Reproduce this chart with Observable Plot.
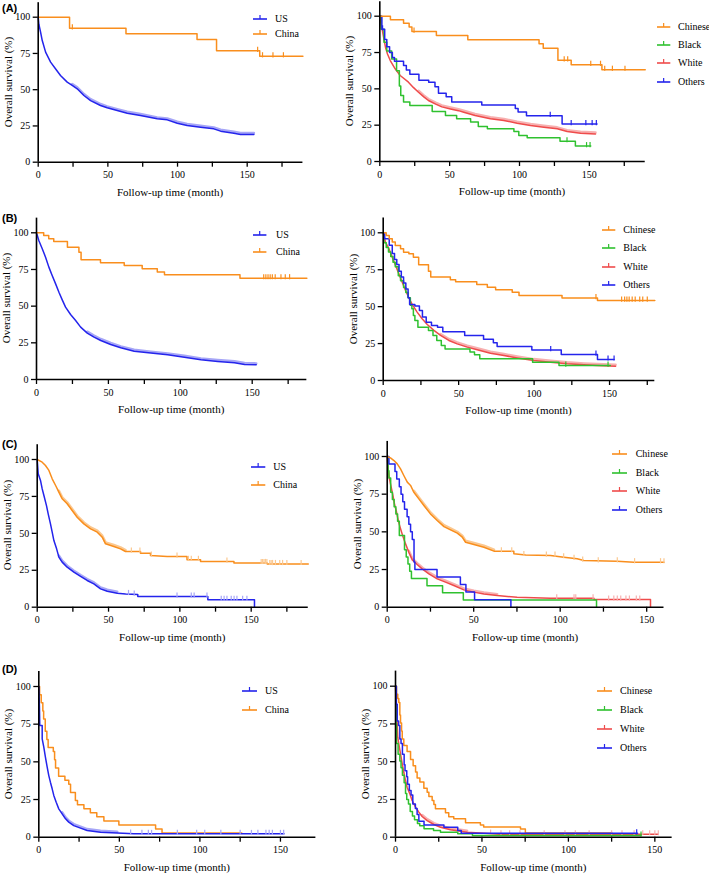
<!DOCTYPE html>
<html><head><meta charset="utf-8">
<script src="https://cdn.jsdelivr.net/npm/d3@7"></script>
<script src="https://cdn.jsdelivr.net/npm/@observablehq/plot@0.6"></script>
<style>
body{margin:0;background:#fff;}
#fig{position:relative;width:709px;height:874px;overflow:hidden;background:#fff;font-family:"Liberation Serif","Times New Roman",serif;color:#000;}
.t{position:absolute;white-space:nowrap;line-height:1;}
.p{position:absolute;}
</style></head><body><div id="fig"></div>
<script>
// ---------- tick values ----------
const X_TICKS = [0, 25, 50, 75, 100, 125, 150, 175];
const X_LABELS = [0, 50, 100, 150];
const Y_TICKS = [0, 25, 50, 75, 100];
const PANEL_LABELS = ["(A)", "(B)", "(C)", "(D)"];
const X_TITLE = "Follow-up time (month)";
const Y_TITLE = "Overall survival (%)";
const GROUPS_COUNTRY = ["US", "China"];
const GROUPS_RACE = ["Chinese", "Black", "White", "Others"];

// ---------- data: [month, survival %] ----------
// (A) left
const A_L_US = [[0,100],[0.5,95],[1.7,89.7],[2.9,83.9],[5.3,75.9],[8.9,69],[12.4,64.4],[16,59.8],[20.8,55.2],[24.4,52.9],[28,50.6],[32.8,46],[37.6,42.5],[44.7,39.1],[49.5,37.5],[56.7,35.6],[63.9,33.8],[73.4,32.2],[85.4,29.9],[92.6,29.2],[99.8,26.9],[106.9,25.3],[116.5,24.1],[126,23],[130.9,21.4],[140.4,20],[145.2,19.1],[154.8,19.1]];
const A_L_CHINA = [[0,100],[22.5,92.3],[63,88.5],[114,84.6],[128,76.9],[159,73.1],[190,73.1]];
const A_L_CHINA_CENS = [[24.5,92.3],[157.5,76.9],[161,73.1],[168.5,73.1],[176,73.1]];
// (A) right
const A_R_CHINESE = [[0,100],[7.6,97.5],[17,95.1],[21,92.5],[23,89.5],[40.5,86.7],[63,83.8],[114,81],[117,78],[127.5,69.6],[137,66.6],[159,63.2],[190,63.2]];
const A_R_CHINESE_CENS = [[24.5,89.5],[132,69.6],[134.5,69.6],[151,66.6],[158,66.6],[161,63.2],[166.5,63.2],[175.5,63.2]];
const A_R_BLACK = [[0,100],[1,91],[3,82],[5,76],[8.5,70.5],[12,62.5],[14,52],[15,45.5],[17,41],[21.5,38.5],[37.5,34.4],[47,31.7],[55,29.4],[65,27.1],[70.5,24.1],[77,22.5],[96,20.6],[99.5,17.9],[105.5,16.3],[129,14],[140,10.6],[151,10.6]];
const A_R_BLACK_CENS = [[134,14],[148,10.6],[150.5,10.6]];
const A_R_WHITE = [[0,100],[0.8,95],[1.7,91],[3,84],[4.1,78.5],[5.5,74],[7.5,69.5],[11,63.8],[14.6,59.2],[20.5,54.6],[24,51],[27.7,47.7],[31.5,44.5],[34.8,42],[40,39.5],[44.4,37.6],[50.6,36.2],[56.3,35],[60.1,33.9],[68.2,31.7],[79.2,29.4],[88.8,28.2],[98.3,26.4],[107.9,24.8],[117.4,23.6],[127,22.5],[134.1,20.6],[143.7,19.5],[154.4,19]];
const A_R_OTHERS = [[0,100],[1.5,91],[3.5,84],[5,79],[7,75],[9,71.5],[10.5,69],[17,66],[19,63],[21.5,60],[28,56],[35,54.5],[39.5,51.5],[42,47],[47.5,44.5],[51.5,41],[73,38.8],[97,36.5],[99,34],[105,31.5],[130.5,25.8],[155.5,25.8]];
const A_R_OTHERS_CENS = [[2,91],[122,31.5],[137,25.8],[147.5,25.8],[152,25.8],[155,25.8]];
// (B) left
const B_L_US = [[0,100],[1.6,94.8],[4,89.1],[6.3,83.4],[8.6,76.6],[10.9,70.9],[13.3,65.2],[15.6,59.5],[17.9,54.3],[20.2,49.3],[23.7,44.3],[27.2,40.2],[30.7,35.7],[35.3,31.6],[40,28.9],[44.7,26.6],[51.6,23.9],[58.6,21.6],[67.9,19.3],[79.5,18],[91.2,16.8],[102.8,15.2],[114.4,13.4],[126,12.3],[137.7,11.4],[144.7,10.2],[152.8,10]];
const B_L_CHINA = [[0,100],[5,98.2],[8.5,95.9],[12,94],[21.5,90.2],[29.5,86.8],[31,81.6],[44.5,79.5],[61,77.7],[73.5,75.5],[84,73.2],[89,71.4],[141.5,69.1],[188,69.1]];
const B_L_CHINA_CENS = [[158,69.1],[159.5,69.1],[161,69.1],[162.5,69.1],[164,69.1],[166,69.1],[170,69.1],[173,69.1],[176,69.1]];
// (B) right
const B_R_CHINESE = [[0,100],[2,98.2],[4,95.9],[6,93.7],[8,91.4],[11.5,89.2],[13.5,86.9],[17,85.8],[20,83.5],[23.5,78.3],[30,74],[31.5,70],[44.5,68.2],[48,66.8],[62,65],[69,63.2],[74.5,61.4],[85.5,59.8],[90,57.6],[118.5,55.8],[142,54.2],[180,54.2]];
const B_R_CHINESE_CENS = [[141,55.8],[158,54.2],[160,54.2],[161.5,54.2],[163,54.2],[165,54.2],[167,54.2],[170,54.2],[172,54.2],[175,54.2]];
const B_R_BLACK = [[0,100],[0.5,93.3],[2,90],[3.5,87],[5,84],[6.5,80],[8,77],[10,71],[11.5,67.5],[13.5,63],[15,59.5],[16.5,56],[18,51],[19,48.5],[20,44],[21,40.6],[23,36],[30,33.8],[33,30.5],[35.5,27],[38.5,23.7],[41,21.4],[57.5,19.3],[60.5,17.5],[64,14.7],[99,12.4],[116.5,10.2],[150.5,10.2]];
const B_R_BLACK_CENS = [[121,10.2],[149,10.2]];
const B_R_WHITE = [[0,100],[1.5,93.7],[3.8,89.2],[6,83.5],[8.2,77.9],[10.4,72.2],[12.6,66.6],[14.8,60.9],[17,56],[19.2,51.5],[22.5,46.3],[25.8,41.8],[29.2,37.9],[33.6,33.9],[38,30.5],[43.5,27.1],[49,24.8],[55.7,22.6],[62.3,20.8],[71.1,18.5],[80,16.9],[88.8,15.3],[99.8,13.5],[110.9,12.4],[121.9,11.3],[133,10.6],[141.8,10.2],[154,9.7]];
const B_R_OTHERS = [[0,100],[1,96],[4,91.5],[6,86],[7.5,82],[9,78.5],[10.5,74],[12,70],[13.5,66],[15,62],[16.5,56],[17.5,51.5],[21,50.5],[24,47.4],[26,43],[28.5,39.5],[32,37.2],[36,36],[39.5,33],[54,30.5],[66.5,28],[73,25.5],[75.5,23],[98.5,20.6],[118,17.6],[142,14.3],[153,14.3]];
const B_R_OTHERS_CENS = [[111,20.6],[141,17.6],[149,14.3],[153,14.3]];
// (C) left
const C_L_US = [[0,100],[0.7,90.3],[2.3,85.8],[3.5,80.1],[4.7,75.6],[6.5,68.8],[7.7,63.2],[9.3,56.4],[10.5,50.8],[11.7,45.1],[13.6,39.5],[15.2,33.9],[17.5,30.5],[21,27.1],[25.7,23.7],[30.4,20.8],[35,18.1],[39.7,15.8],[44.4,12.4],[49.1,10.8],[56.1,9.5],[62,9],[70.5,8.6],[70.5,7.2],[119.6,7.2],[119.6,5],[152.3,5],[152.3,0]];
const C_L_US_CENS = [[64,9],[68,8.6],[98,7.2],[108,7.2],[110,7.2],[119,7.2],[129,5],[131,5],[133,5],[136,5],[138,5],[140,5],[144,5],[147,5]];
const C_L_CHINA = [[0,100],[3.5,98.2],[5.8,95.9],[8.2,92.6],[10.5,86.9],[12.9,82.4],[15.2,77.9],[17.5,73.4],[21,70],[24.5,65.5],[28,60.9],[32.7,56.4],[37.4,53],[42.1,50.8],[45.6,47.4],[47.9,42.9],[53.7,41.1],[58.4,39.5],[61.9,37.7],[72.4,37.7],[72.4,36.5],[79.4,36.5],[79.4,35],[91.1,34.3],[105,34.3],[105,32.1],[114.5,32.1],[114.5,30.9],[137.9,30.9],[137.9,30],[161.2,30],[161.2,29.3],[190,29.3]];
const C_L_CHINA_CENS = [[66,37.7],[72,37.7],[80,35],[98,34.3],[106,32.1],[108,32.1],[113,32.1],[133,30.9],[157,30],[158,30],[159,30],[160,30],[161,30],[163,29.3],[164,29.3],[165,29.3],[167,29.3],[170,29.3],[172,29.3],[175,29.3],[185,29.3]];
// (C) right
const C_R_CHINESE = [[0,100],[1.9,99.1],[3.9,97.3],[5.8,95.1],[7.7,91.8],[9.6,87.4],[11.6,83],[13.5,80.8],[15.4,76.3],[18.3,71.9],[21.2,67.5],[25,61.9],[28.9,57.5],[32.8,53.5],[36.6,51.3],[40.5,49.1],[43.4,46.5],[45.3,43.1],[50.1,41.6],[55.9,39.8],[61.7,37.2],[73.2,37.2],[73.2,35.5],[80,34.7],[94.4,34.3],[102.1,33.2],[109.8,32.1],[113.7,31],[132.9,30.5],[142.6,29.9],[160,29.9]];
const C_R_CHINESE_CENS = [[66,37.2],[72,37.2],[79,34.7],[92,34.3],[97,34.3],[102,33.2],[108,32.1],[113,31],[122,30.5],[133,30.5],[143,29.9],[158,29.9],[160,29.9]];
const C_R_BLACK = [[0,100],[0.5,90.5],[1,85.7],[2,76.2],[3,71.4],[4,66.7],[5,61.9],[6,57.1],[7,47.6],[10,38.1],[11,33.3],[12,28.6],[13,23.8],[14,19],[23,14.3],[32,9.5],[44,4.8],[121,0]];
const C_R_WHITE = [[0,100],[0.6,90.7],[1.3,85.2],[2.3,79.6],[3.3,74.1],[4.2,68.6],[5.4,63],[6.4,57.5],[7.7,52],[9.2,46.5],[10.6,42],[12.5,36.5],[14.5,31.4],[17.3,28.3],[20.2,25.4],[24.1,22.1],[28.9,18.8],[33.7,16.6],[38.5,14.4],[44.3,11.5],[50.1,10],[55.9,8.8],[63.6,7.7],[75.1,6.6],[94.4,6],[119.5,6],[119.5,5.1],[152.2,5.1],[152.2,0]];
const C_R_WHITE_CENS = [[98,6],[108,6],[109,6],[119,6],[128,5.1],[131,5.1],[133,5.1],[135,5.1],[138,5.1],[140,5.1],[144,5.1],[146,5.1]];
const C_R_OTHERS = [[0,100],[1,95],[4.5,90],[5.5,85],[7,80],[8,75],[9,70],[10,65],[11.5,60],[12.5,55],[13.5,50],[14.5,45],[15.5,30],[16,25],[28.8,20],[42.3,15],[45.5,10],[50.5,5],[71.5,0]];
// (D) left
const D_L_US = [[0,100],[0.4,86.3],[0.6,74.1],[2.1,74.1],[2.1,65.3],[3.1,59.7],[4.1,53.1],[5.2,46.5],[6.2,40.9],[7.2,36.5],[8.3,32.1],[9.3,27.7],[10.8,23.2],[12.4,18.8],[14.5,15.5],[16.6,12.2],[18.6,10],[21.7,7.7],[25.9,6],[30,4.4],[38.3,3.3],[48.7,2.7],[59,2.2],[152.2,2.2]];
const D_L_US_CENS = [[57,2.5],[64,2.2],[68,2.2],[70,2.2],[86,2.2],[98,2.2],[103,2.2],[113,2.2],[125,2.2],[132,2.2],[136,2.2],[141,2.2],[143,2.2],[145,2.2],[150,2.2],[152,2.2]];
const D_L_CHINA = [[0,100],[0.5,94.6],[1.5,89.2],[2.5,83.8],[3,78.4],[4,70.3],[5,64.9],[5.8,59.5],[9,56.8],[9.8,51.4],[10.4,45.9],[12.3,40.5],[16.2,37.8],[18.6,35.1],[19.7,29.7],[22.7,24.3],[24,21.6],[28,18.9],[32,16.2],[36,13.5],[40.4,10.8],[49.7,8.1],[72.5,5.4],[76.5,2.7],[126,2.7]];
// (D) right
const D_R_CHINESE = [[0,100],[0.6,94.6],[1.3,91.9],[1.9,89.2],[2.5,81],[2.9,75.7],[3.5,70.3],[3.9,65],[4.8,60.8],[6.7,56.8],[8.7,51.4],[10.2,47.3],[11.6,43.2],[12.5,39.2],[14.1,36.5],[16.4,32.4],[18.3,29.7],[19.3,27],[21.2,24.3],[22.2,21.6],[23.1,18.9],[28.9,16.2],[30.8,13.5],[33.7,12.2],[40.5,9.5],[49.1,8.1],[51,6.8],[72.3,5.4],[75.1,2.7],[125.2,2.7]];
const D_R_BLACK = [[0,100],[0.3,75],[0.6,62],[1.5,55],[2.5,50.5],[3.2,46],[4,41],[5,36],[5.8,29],[6.5,25],[7.5,22],[8.5,17],[9.8,14],[11,11.5],[12.7,9],[14,7.5],[16.5,5.6],[22,4.4],[26,3.3],[36,2.2],[44.5,1.2],[142,1.2]];
const D_R_BLACK_CENS = [[142,1.2]];
const D_R_WHITE = [[0,100],[0.4,86.1],[1,75],[1.3,66.2],[1.9,61.8],[2.9,55.2],[3.9,48.6],[4.8,43],[5.8,37.5],[6.7,33.1],[8.3,28.7],[9.6,24.3],[11.6,19.9],[13.5,16.6],[15.4,13.7],[18.3,11],[22.2,8.4],[26,6.6],[31.8,4.9],[41.4,3.3],[51.1,2.6],[60,2],[152,2]];
const D_R_WHITE_CENS = [[55,2.4],[61,2],[66,2],[72,2],[86,2],[98,2],[104,2],[112,2],[125,2],[131,2],[138,2],[143,2],[147,2],[150,2],[152,2]];
const D_R_OTHERS = [[0,100],[0.5,88],[1,77],[1.8,74],[2.5,65],[3.2,62],[4,55],[5,48],[5.5,44],[6.5,40],[7,35],[8,31],[9,28],[10,22],[11.5,19],[12.5,15],[13.5,10.5],[16.5,8],[28,6.6],[36,4.4],[38,2.6],[140,2.6]];
const D_R_OTHERS_CENS = [[139.5,2.6]];

// ---------- styles ----------
const C = {orange:"#F98E1D", blue:"#2424EC", green:"#2FC12F", red:"#EF4B4B",
           orangeL:"#FBC890", blueL:"#A6A6F7", redL:"#F7B0B0"};
const COUNTRY_COLORS = [C.blue, C.orange];
const RACE_COLORS = [C.orange, C.green, C.red, C.blue];

const PANELS = [
 {letter:0, left:0, top:0, w:350, x0:37.7, ppm:1.3933, xMax:190, y100:16.7, y0:161.7,
  series:[{d:A_L_US,c:C.blue,l:C.blueL,dense:true,band:[22,156]},{d:A_L_CHINA,c:C.orange,cens:A_L_CHINA_CENS}],
  leg:{x1:253,x2:267,tx:275,ys:[19,34.3],names:GROUPS_COUNTRY,colors:COUNTRY_COLORS}},
 {left:350, top:0, w:359, x0:379.3, ppm:1.397, xMax:190, y100:15.7, y0:161,
  series:[{d:A_R_WHITE,c:C.red,l:C.redL,dense:true,band:[25,156]},{d:A_R_BLACK,c:C.green,cens:A_R_BLACK_CENS},{d:A_R_OTHERS,c:C.blue,cens:A_R_OTHERS_CENS},{d:A_R_CHINESE,c:C.orange,cens:A_R_CHINESE_CENS}],
  leg:{x1:656.7,x2:670,tx:678,ys:[26.7,45,63.3,81.7],names:GROUPS_RACE,colors:RACE_COLORS}},
 {letter:1, left:0, top:205, w:350, x0:36, ppm:1.438, xMax:188, y100:232.3, y0:379,
  series:[{d:B_L_US,c:C.blue,l:C.blueL,dense:true,band:[35,155]},{d:B_L_CHINA,c:C.orange,cens:B_L_CHINA_CENS}],
  leg:{x1:253.3,x2:266.7,tx:276,ys:[235,251.7],names:GROUPS_COUNTRY,colors:COUNTRY_COLORS}},
 {left:350, top:205, w:359, x0:382.7, ppm:1.509, xMax:180, y100:232.3, y0:380,
  series:[{d:B_R_WHITE,c:C.red,l:C.redL,dense:true,band:[38,155]},{d:B_R_BLACK,c:C.green,cens:B_R_BLACK_CENS},{d:B_R_OTHERS,c:C.blue,cens:B_R_OTHERS_CENS},{d:B_R_CHINESE,c:C.orange,cens:B_R_CHINESE_CENS}],
  leg:{x1:601.7,x2:615,tx:623.3,ys:[230,248.3,266.7,285],names:GROUPS_RACE,colors:RACE_COLORS}},
 {letter:2, left:0, top:420, w:350, x0:36.7, ppm:1.4267, xMax:190, y100:459, y0:606.7,
  series:[{d:C_L_US,c:C.blue,l:C.blueL,dense:true,band:[15,60],cens:C_L_US_CENS},{d:C_L_CHINA,c:C.orange,l:C.orangeL,dense:true,band:[15,62],cens:C_L_CHINA_CENS}],
  leg:{x1:250.7,x2:265,tx:273.3,ys:[466.7,485],names:GROUPS_COUNTRY,colors:COUNTRY_COLORS}},
 {left:350, top:420, w:359, x0:386.7, ppm:1.73, xMax:160, y100:456, y0:606.7,
  series:[{d:C_R_WHITE,c:C.red,l:C.redL,dense:true,band:[12,72],cens:C_R_WHITE_CENS},{d:C_R_BLACK,c:C.green},{d:C_R_OTHERS,c:C.blue},{d:C_R_CHINESE,c:C.orange,l:C.orangeL,dense:true,band:[15,62],cens:C_R_CHINESE_CENS}],
  leg:{x1:611.7,x2:626.7,tx:635.7,ys:[454.3,473,491.3,510],names:GROUPS_RACE,colors:RACE_COLORS}},
 {letter:3, left:0, top:640, w:350, x0:38.3, ppm:1.611, xMax:172, y100:686, y0:836.7,
  series:[{d:D_L_CHINA,c:C.orange},{d:D_L_US,c:C.blue,l:C.blueL,dense:true,band:[14,50],cens:D_L_US_CENS}],
  leg:{x1:241.7,x2:256.7,tx:265,ys:[691,710],names:GROUPS_COUNTRY,colors:COUNTRY_COLORS}},
 {left:350, top:640, w:359, x0:395, ppm:1.729, xMax:160, y100:685.7, y0:836.7,
  series:[{d:D_R_CHINESE,c:C.orange},{d:D_R_WHITE,c:C.red,l:C.redL,dense:true,band:[14,50],cens:D_R_WHITE_CENS},{d:D_R_BLACK,c:C.green,cens:D_R_BLACK_CENS},{d:D_R_OTHERS,c:C.blue,cens:D_R_OTHERS_CENS}],
  leg:{x1:596.7,x2:611.7,tx:620,ys:[691,710,729,747.7],names:GROUPS_RACE,colors:RACE_COLORS}}
];

const censorSymbol = {draw(ctx, size){ const r = Math.sqrt(size/Math.PI); ctx.moveTo(0,-r); ctx.lineTo(0,r*0.3); }};
const fig = document.getElementById("fig");
const NS = "http://www.w3.org/2000/svg";

function addText(txt, x, y, css) {
  const el = document.createElement("div");
  el.className = "t";
  el.textContent = txt;
  el.style.left = x + "px"; el.style.top = y + "px";
  Object.assign(el.style, css || {});
  fig.appendChild(el);
  return el;
}
function addSwatch(x1, x2, y, color) {
  const w = x2 - x1;
  const svg = document.createElementNS(NS, "svg");
  svg.setAttribute("width", w + 2); svg.setAttribute("height", 10);
  svg.style.position = "absolute";
  svg.style.left = (x1 - 1) + "px"; svg.style.top = (y - 6) + "px";
  svg.style.overflow = "visible";
  const ln = document.createElementNS(NS, "line");
  ln.setAttribute("x1", 1); ln.setAttribute("x2", w + 1); ln.setAttribute("y1", 6); ln.setAttribute("y2", 6);
  ln.setAttribute("stroke", color); ln.setAttribute("stroke-width", 1.6);
  const tk = document.createElementNS(NS, "line");
  tk.setAttribute("x1", 1 + w/2); tk.setAttribute("x2", 1 + w/2); tk.setAttribute("y1", 2); tk.setAttribute("y2", 6);
  tk.setAttribute("stroke", color); tk.setAttribute("stroke-width", 1.2);
  svg.appendChild(ln); svg.appendChild(tk);
  fig.appendChild(svg);
}

const toObj = arr => arr.map(([t, v]) => ({t, v}));

for (const p of PANELS) {
  const ppp = (p.y0 - p.y100) / 100;
  const h = p.y0 - p.top + 22;
  const frameW = p.xMax * p.ppm;
  const mLeft = p.x0 - p.left;
  const mTop = (p.y0 - 110 * ppp) - p.top;
  const marks = [];
  for (const s of p.series) {
    const data = toObj(s.d);
    if (s.band) {
      marks.push(Plot.line(data.filter(d => d.t >= s.band[0] && d.t <= s.band[1]),
        {x:"t", y:"v", stroke:s.l, strokeWidth:2.6, dy:-1.4, curve:"linear"}));
    }
    marks.push(Plot.line(data, {x:"t", y:"v", stroke:s.c, strokeWidth:1.5, curve: s.dense ? "linear" : "step-after"}));
    if (s.cens) {
      marks.push(Plot.dot(toObj(s.cens), {x:"t", y:"v", symbol:censorSymbol, r:4, stroke: s.l || s.c, strokeWidth:1.2, fill:"none"}));
    }
  }
  marks.push(Plot.ruleX([0], {stroke:"#000", strokeWidth:1.6}));
  marks.push(Plot.ruleY([0], {stroke:"#000", strokeWidth:1.6}));
  marks.push(Plot.axisY({ticks:Y_TICKS, tickSize:5, tickPadding:3, stroke:"#000", strokeWidth:1.3, fill:"#000"}));
  marks.push(Plot.axisX({ticks:X_TICKS.filter(t => t <= p.xMax), tickSize:5, tickPadding:4, stroke:"#000", strokeWidth:1.3, fill:"#000",
    tickFormat: d => X_LABELS.includes(d) ? String(d) : ""}));

  const svg = Plot.plot({
    width: p.w, height: h,
    marginLeft: mLeft, marginRight: p.w - mLeft - frameW,
    marginTop: mTop, marginBottom: h - (p.y0 - p.top),
    x: {domain:[0, p.xMax], label:null},
    y: {domain:[0, 110], label:null},
    style: {fontFamily:'"Liberation Serif","Times New Roman",serif', fontSize:"10px", color:"#000", background:"transparent", overflow:"visible"},
    marks
  });
  const wrap = document.createElement("div");
  wrap.className = "p";
  wrap.style.left = p.left + "px"; wrap.style.top = p.top + "px";
  wrap.appendChild(svg);
  fig.appendChild(wrap);

  // axis titles
  addText(X_TITLE, p.x0 + frameW/2, p.y0 + 30, {fontSize:"11px", transform:"translate(-50%,-50%)"});
  addText(Y_TITLE, p.x0 - 30, p.y0 - 55*ppp, {fontSize:"11px", transform:"translate(-50%,-50%) rotate(-90deg)"});
  // panel letter
  if (p.letter !== undefined) {
    const yl = [8, 217.5, 444, 669][p.letter];
    addText(PANEL_LABELS[p.letter], 2, yl, {fontFamily:'"Liberation Sans",Arial,sans-serif', fontWeight:"bold", fontSize:"11px", transform:"translate(0,-50%)"});
  }
  // legend
  const L = p.leg;
  L.names.forEach((name, i) => {
    const y = L.ys[i], col = L.colors[i];
    addSwatch(L.x1, L.x2, y, col);
    addText(name, L.tx, y, {fontSize:"10px", transform:"translate(0,-50%)"});
  });
}
</script></body></html>
